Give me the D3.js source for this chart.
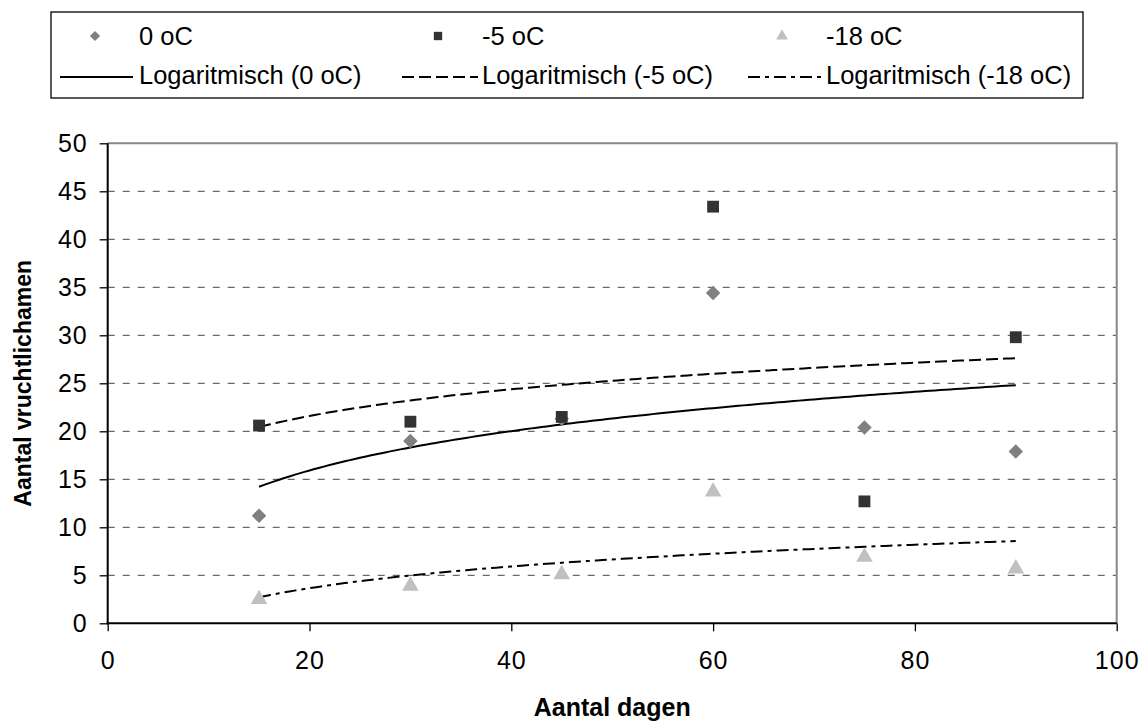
<!DOCTYPE html>
<html><head><meta charset="utf-8">
<script src="https://cdn.jsdelivr.net/npm/d3@7"></script>
<style>body{margin:0;background:#fff}svg{display:block}text{font-family:"Liberation Sans",Arial,sans-serif}</style>
</head><body><svg id="c" width="1139" height="722"></svg>
<script>
const days = [15, 30, 45, 60, 75, 90];
const s0 = [11.2, 19.0, 21.3, 34.4, 20.4, 17.9];
const s5 = [20.6, 21.0, 21.5, 43.4, 12.7, 29.8];
const s18 = [2.5, 3.9, 5.1, 13.7, 6.9, 5.7];
const seriesNames = ["0 oC", "-5 oC", "-18 oC"];
const trendNames = ["Logaritmisch (0 oC)", "Logaritmisch (-5 oC)", "Logaritmisch (-18 oC)"];
const xTicks = [0, 20, 40, 60, 80, 100];
const yTicks = [0, 5, 10, 15, 20, 25, 30, 35, 40, 45, 50];
const xTitle = "Aantal dagen";
const yTitle = "Aantal vruchtlichamen";

const svg = d3.select("#c");
const L = 107.7, R = 1116.7, T = 143.3, B = 623.3;
const x = d3.scaleLinear().domain([0, 100]).range([L, R]);
const y = d3.scaleLinear().domain([0, 50]).range([B, T]);

const styles = [
  {sym: d3.symbolSquare, rot: 45, size: 105, fill: "#808080", dash: null},
  {sym: d3.symbolSquare, rot: 0, size: 140, fill: "#333333", dash: "12,5"},
  {sym: d3.symbolTriangle, rot: 0, size: 120, fill: "#c0c0c0", dash: "12,5,4,5"}
];
const data = [s0, s5, s18];

// gridlines
svg.append("g").selectAll("line").data(yTicks.filter(v => v > 0 && v < 50)).join("line")
  .attr("x1", L).attr("x2", R).attr("y1", d => y(d)).attr("y2", d => y(d))
  .attr("stroke", "#6a6a6a").attr("stroke-width", 1.3).attr("stroke-dasharray", "7,8");
// frame top/right
svg.append("path").attr("d", `M${L},${T}H${R}V${B}`).attr("fill", "none").attr("stroke", "#888").attr("stroke-width", 2);

// axes
const yAxis = svg.append("g").attr("transform", `translate(${L},0)`)
  .call(d3.axisLeft(y).tickValues(yTicks).tickSize(8).tickPadding(12));
const xAxis = svg.append("g").attr("transform", `translate(0,${B})`)
  .call(d3.axisBottom(x).tickValues(xTicks).tickSize(8).tickPadding(20));
[yAxis, xAxis].forEach(a => {
  a.select(".domain").remove();
  a.selectAll("line").attr("stroke", "#000").attr("stroke-width", 1.3);
  a.selectAll("text").attr("font-size", 25).attr("fill", "#000").attr("font-family", "Liberation Sans, Arial, sans-serif").style("letter-spacing", "1px");
});
svg.append("line").attr("x1", L).attr("x2", L).attr("y1", T).attr("y2", B + 1).attr("stroke", "#000").attr("stroke-width", 2);
svg.append("line").attr("x1", L - 1).attr("x2", R).attr("y1", B).attr("y2", B).attr("stroke", "#000").attr("stroke-width", 2);

// log regression trend lines
function logFit(xs, ys) {
  const lx = xs.map(Math.log);
  const mx = d3.mean(lx), my = d3.mean(ys);
  const a = d3.sum(lx, (v, i) => (v - mx) * (ys[i] - my)) / d3.sum(lx, v => (v - mx) ** 2);
  return t => a * Math.log(t) + (my - a * mx);
}
const xmin = d3.min(days), xmax = d3.max(days);
const samples = d3.range(xmin, xmax + 0.001, 0.5);
const line = d3.line().x(d => x(d[0])).y(d => y(d[1]));
data.forEach((ys, i) => {
  const f = logFit(days, ys);
  svg.append("path").attr("d", line(samples.map(t => [t, f(t)])))
    .attr("fill", "none").attr("stroke", "#000").attr("stroke-width", 2)
    .attr("stroke-dasharray", styles[i].dash);
});

// markers
data.forEach((ys, i) => {
  svg.append("g").selectAll("path").data(ys).join("path")
    .attr("transform", (d, j) => `translate(${x(days[j])},${y(d)}) rotate(${styles[i].rot})`)
    .attr("d", d3.symbol().type(styles[i].sym).size(styles[i].size))
    .attr("fill", styles[i].fill);
});

// axis titles
svg.append("text").attr("x", (L + R) / 2).attr("y", 716).attr("text-anchor", "middle")
  .attr("font-size", 25).attr("font-weight", "bold").text(xTitle);
svg.append("text").attr("transform", `translate(31,${(T + B) / 2}) rotate(-90)`).attr("text-anchor", "middle")
  .attr("font-size", 23).attr("font-weight", "bold").text(yTitle);

// legend
const lg = svg.append("g");
lg.append("rect").attr("x", 51).attr("y", 12).attr("width", 1032).attr("height", 86)
  .attr("fill", "#fff").attr("stroke", "#000").attr("stroke-width", 1.3);
const mkX = [95, 438, 782];
const txtX = [139, 482, 826];
const lineX = [[60, 133], [402, 478], [748, 821]];
seriesNames.forEach((n, i) => {
  lg.append("path").attr("transform", `translate(${mkX[i]},36) rotate(${styles[i].rot})`)
    .attr("d", d3.symbol().type(styles[i].sym).size(styles[i].size * 0.5)).attr("fill", styles[i].fill);
  lg.append("text").attr("x", txtX[i]).attr("y", 45).attr("font-size", 25.5).text(n);
  lg.append("line").attr("x1", lineX[i][0]).attr("x2", lineX[i][1]).attr("y1", 77).attr("y2", 77)
    .attr("stroke", "#000").attr("stroke-width", 2.2).attr("stroke-dasharray", styles[i].dash);
  lg.append("text").attr("x", txtX[i]).attr("y", 84).attr("font-size", 25.5).text(trendNames[i]);
});
</script></body></html>
